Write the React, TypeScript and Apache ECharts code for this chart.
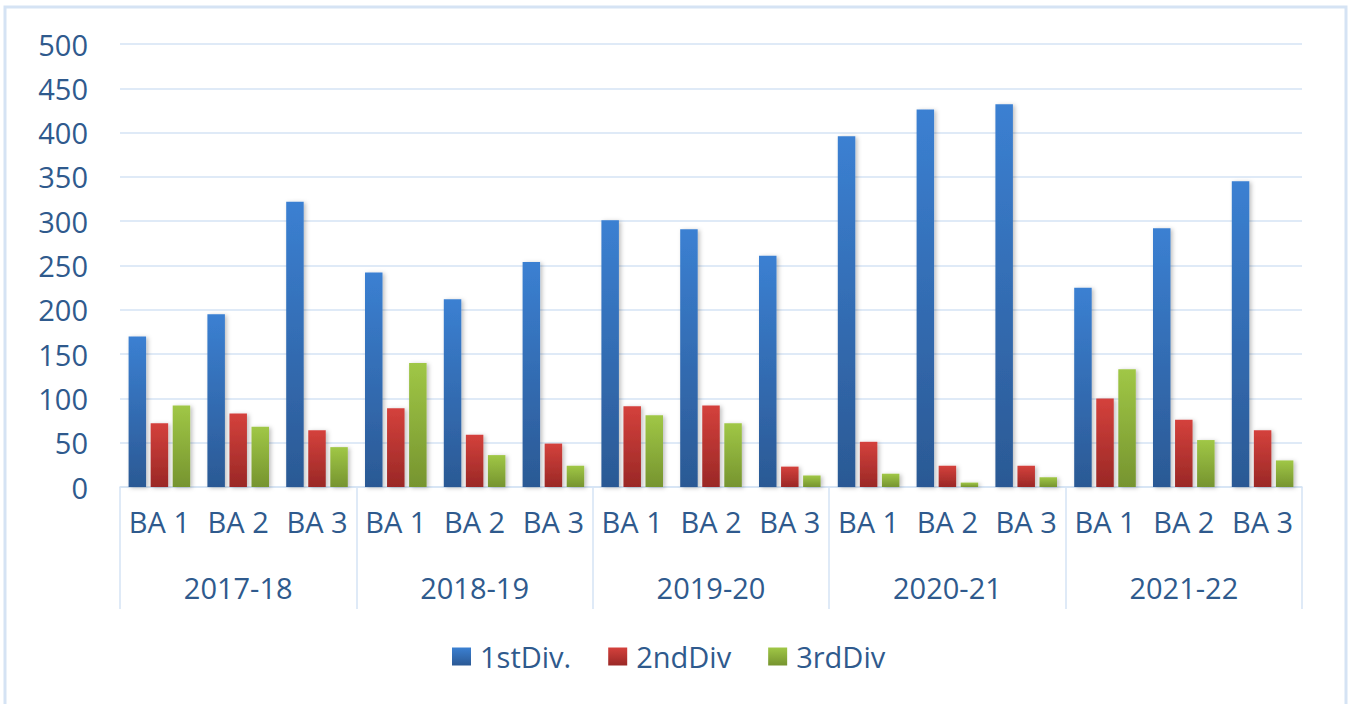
import React, { useEffect, useRef } from "react";
import * as echarts from "echarts";

const programs = ["BA 1", "BA 2", "BA 3"];
const years = ["2017-18", "2018-19", "2019-20", "2020-21", "2021-22"];
const categories = years.flatMap(() => programs);
const firstDiv = [170, 195, 322, 242, 212, 254, 301, 291, 261, 396, 426, 432, 225, 292, 345];
const secondDiv = [72, 83, 64, 89, 59, 49, 91, 92, 23, 51, 24, 24, 100, 76, 64];
const thirdDiv = [92, 68, 45, 140, 36, 24, 81, 72, 13, 15, 5, 11, 133, 53, 30];
const yTicks = { min: 0, max: 500, interval: 50 };

const FONT = "Open Sans";
const TEXT = "#2f5a8d";
const LINE = "#d5e3f4";
const FS = 29;

function grad(top: string, bottom: string) {
  return new echarts.graphic.LinearGradient(0, 0, 0, 1, [
    { offset: 0, color: top },
    { offset: 1, color: bottom },
  ]);
}

export default function App() {
  const ref = useRef<HTMLDivElement>(null);
  useEffect(() => {
    if (!ref.current) return;
    const chart = echarts.init(ref.current, undefined, { renderer: "svg" });
    const barCommon = {
      type: "bar",
      barWidth: 17.5,
      barGap: "26%",
      xAxisIndex: 0,
    };
    const shadow = {
      shadowBlur: 4,
      shadowColor: "rgba(0,0,0,0.25)",
      shadowOffsetX: 2,
      shadowOffsetY: 1,
    };
    chart.setOption({
      animation: false,
      backgroundColor: "#ffffff",
      textStyle: { fontFamily: FONT },
      graphic: [
        {
          type: "rect",
          shape: { x: 5, y: 7, width: 1341, height: 710 },
          style: { fill: "none", stroke: LINE, lineWidth: 3 },
          z: -1,
        },
      ],
      legend: {
        left: 447,
        top: 637,
        itemWidth: 19,
        itemHeight: 18,
        itemGap: 37,
        icon: "rect",
        textStyle: { fontFamily: FONT, fontSize: FS, color: TEXT, padding: [0, 0, 0, 4] },
        data: ["1stDiv.", "2ndDiv", "3rdDiv"],
      },
      grid: { left: 120, right: 46, top: 44, bottom: 217, containLabel: false },
      xAxis: [
        {
          type: "category",
          data: categories,
          position: "bottom",
          axisLine: { show: true, lineStyle: { color: LINE, width: 1.5 } },
          axisTick: { show: false },
          axisLabel: {
            interval: 0,
            margin: 20,
            fontFamily: FONT,
            fontSize: FS,
            color: TEXT,
          },
        },
        {
          type: "category",
          data: years,
          position: "bottom",
          offset: 122,
          axisLine: { show: false },
          axisTick: {
            show: true,
            inside: true,
            length: 122,
            lineStyle: { color: LINE, width: 1.5 },
          },
          axisLabel: {
            inside: true,
            interval: 0,
            margin: 7,
            fontFamily: FONT,
            fontSize: FS,
            color: TEXT,
          },
        },
      ],
      yAxis: {
        type: "value",
        min: yTicks.min,
        max: yTicks.max,
        interval: yTicks.interval,
        axisLine: { show: false },
        axisTick: { show: false },
        splitLine: { lineStyle: { color: LINE, width: 1.5 } },
        axisLabel: {
          margin: 32,
          fontFamily: FONT,
          fontSize: FS,
          color: TEXT,
        },
      },
      series: [
        {
          ...barCommon,
          name: "1stDiv.",
          data: firstDiv,
          itemStyle: { color: grad("#3b80d2", "#2b5994"), ...shadow },
        },
        {
          ...barCommon,
          name: "2ndDiv",
          data: secondDiv,
          itemStyle: { color: grad("#d4413c", "#9a2826"), ...shadow },
        },
        {
          ...barCommon,
          name: "3rdDiv",
          data: thirdDiv,
          itemStyle: { color: grad("#a0c746", "#76942f"), ...shadow },
        },
      ],
    });
    return () => chart.dispose();
  }, []);
  return (
    <div
      ref={ref}
      style={{ position: "fixed", left: 0, top: 0, width: 1348, height: 704 }}
    />
  );
}
